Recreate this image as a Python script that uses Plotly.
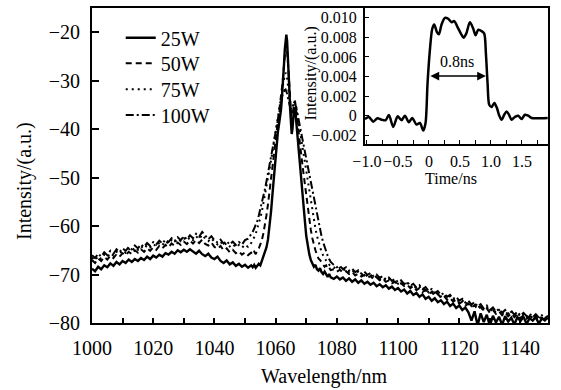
import plotly.graph_objects as go

# ---------------- main spectrum data ----------------
WAVELENGTH = [
    1000, 1001, 1002, 1003, 1004, 1005, 1006, 1007, 1008, 1009,
    1010, 1011, 1012, 1013, 1014, 1015, 1016, 1017, 1018, 1019,
    1020, 1021, 1022, 1023, 1024, 1025, 1026, 1027, 1028, 1029,
    1030, 1031, 1032, 1033, 1034, 1035, 1036, 1037, 1038, 1039,
    1040, 1041, 1042, 1043, 1044, 1045, 1046, 1047, 1048, 1049,
    1050, 1051, 1052,
    1052.5, 1053, 1053.5, 1054, 1054.5, 1055, 1055.5, 1056, 1056.5, 1057,
    1057.5, 1058, 1058.5, 1059, 1059.5, 1060,
    1060.25, 1060.5, 1060.75, 1061, 1061.25, 1061.5, 1061.75, 1062,
    1062.25, 1062.5, 1062.75, 1063, 1063.25, 1063.5, 1063.75, 1064,
    1064.25, 1064.5, 1064.75, 1065, 1065.25, 1065.5, 1065.75, 1066,
    1066.25, 1066.5, 1066.75, 1067, 1067.25, 1067.5, 1067.75, 1068,
    1068.5, 1069, 1069.5, 1070, 1070.5, 1071, 1071.5, 1072, 1072.5, 1073,
    1073.5, 1074, 1074.5, 1075, 1075.5, 1076, 1076.5, 1077, 1077.5, 1078,
    1079, 1080, 1081, 1082, 1083, 1084, 1085, 1086, 1087, 1088,
    1089, 1090, 1091, 1092, 1093, 1094, 1095, 1096, 1097, 1098,
    1099, 1100, 1101, 1102, 1103, 1104, 1105, 1106, 1107, 1108,
    1109, 1110, 1111, 1112, 1113, 1114, 1115, 1116, 1117, 1118,
    1119, 1120, 1121, 1122, 1123, 1124, 1125, 1126, 1127, 1128,
    1129, 1130, 1131, 1132, 1133, 1134, 1135, 1136, 1137, 1138,
    1139, 1140, 1141, 1142, 1143, 1144, 1145, 1146, 1147, 1148,
    1149,
]

P25W = [
    -68.8, -69.3, -68.4, -68.9, -68.1, -68.5, -67.7, -68.2, -67.4, -67.9,
    -67.2, -67.6, -66.9, -67.4, -66.8, -67.2, -66.6, -67.0, -66.3, -66.8,
    -66.1, -66.5, -65.9, -66.3, -65.6, -65.9, -65.3, -65.7, -65.0, -65.4,
    -64.9, -65.3, -64.8, -65.2, -65.7, -65.1, -65.8, -66.2, -65.7, -66.5,
    -66.8, -66.3, -67.2, -67.6, -67.1, -67.9, -67.5, -68.2, -67.8, -68.4,
    -68.0, -68.6, -68.1,
    -68.5, -68.0, -68.6, -68.2, -67.8, -68.1, -67.2, -66.3, -65.6, -64.4,
    -62.8, -60.3, -57.0, -53.2, -49.0, -45.0,
    -43.0, -41.5, -40.5, -39.5, -38.5, -37.5, -36.0, -34.0,
    -32.0, -29.5, -26.5, -23.5, -21.5, -20.5, -21.8, -24.5,
    -28.0, -32.0, -36.0, -39.0, -41.0, -40.0, -37.5, -36.0,
    -35.5, -36.5, -38.5, -40.5, -42.0, -43.5, -45.0, -47.5,
    -51.0, -54.5, -58.5, -62.0, -64.3, -65.8, -67.0, -67.6, -68.4, -68.0,
    -68.9, -69.2, -68.7, -69.5, -69.9, -69.4, -70.1, -70.5, -69.9, -70.6,
    -70.9, -70.4, -71.0, -70.6, -71.3, -70.8, -71.5, -71.0, -71.7, -71.2,
    -71.9, -71.5, -72.1, -71.7, -72.4, -72.0, -72.6, -72.2, -72.9, -72.5,
    -73.2, -72.8, -73.5, -73.1, -73.9, -73.4, -74.2, -73.8, -74.6, -74.1,
    -75.0, -74.6, -75.4, -74.9, -75.7, -75.3, -76.1, -75.6, -76.5, -76.0,
    -76.9, -76.4, -77.3, -76.8, -77.8, -79.5, -77.6, -80.5, -78.0, -79.8,
    -78.3, -80.6, -78.5, -79.9, -78.7, -80.4, -78.6, -79.7, -78.9, -80.3,
    -78.8, -79.6, -78.7, -80.2, -79.0, -79.5, -78.8, -80.1, -79.1, -79.4,
    -78.9,
]

P50W = [
    -67.0, -67.6, -66.7, -67.2, -66.4, -66.9, -66.1, -66.6, -65.8, -66.3,
    -65.6, -66.0, -65.3, -65.8, -65.0, -65.5, -64.8, -65.3, -64.6, -65.1,
    -64.4, -64.9, -64.1, -64.6, -63.9, -64.4, -63.6, -64.1, -63.4, -63.9,
    -63.2, -63.7, -63.0, -63.6, -62.9, -63.5, -62.8, -63.7, -64.0, -63.4,
    -64.3, -64.7, -64.1, -65.0, -64.6, -65.4, -64.9, -65.6, -65.2, -65.9,
    -65.4, -66.0, -65.5,
    -65.9, -65.3, -65.8, -65.0, -64.6, -63.8, -62.9, -61.5, -59.8, -57.8,
    -55.5, -53.0, -50.5, -47.8, -45.0, -42.5,
    -41.2, -40.0, -38.8, -37.5, -36.4, -35.2, -33.8, -32.2,
    -30.5, -28.6, -26.5, -24.6, -23.2, -22.8, -23.8, -26.0,
    -29.0, -32.0, -35.0, -37.2, -38.5, -37.6, -35.8, -34.6,
    -34.2, -34.9, -36.4, -38.0, -39.4, -40.6, -41.9, -43.3,
    -46.0, -48.6, -51.3, -54.0, -56.6, -58.8, -60.8, -62.5, -63.9, -65.0,
    -65.9, -66.7, -67.0, -67.6, -67.9, -68.4, -68.1, -68.8, -68.6, -69.1,
    -68.9, -69.4, -69.0, -69.6, -69.3, -69.9, -69.5, -70.2, -69.8, -70.4,
    -70.1, -70.7, -70.3, -71.0, -70.6, -71.2, -70.9, -71.5, -71.2, -71.8,
    -71.5, -72.1, -71.8, -72.4, -72.1, -72.8, -72.4, -73.2, -72.8, -73.6,
    -73.2, -74.0, -73.6, -74.4, -74.0, -74.8, -74.4, -75.2, -74.8, -75.6,
    -75.2, -76.0, -75.6, -76.4, -76.0, -76.8, -76.3, -77.2, -76.7, -77.5,
    -77.0, -77.9, -77.3, -78.1, -77.6, -78.4, -77.8, -78.6, -78.0, -78.8,
    -78.2, -79.0, -78.4, -79.1, -78.6, -79.3, -78.7, -79.4, -78.9, -79.5,
    -79.0,
]

P75W = [
    -66.5, -67.1, -66.2, -66.8, -65.9, -66.4, -65.6, -66.1, -65.3, -65.8,
    -65.0, -65.5, -64.7, -65.2, -64.4, -64.9, -64.2, -64.7, -63.9, -64.4,
    -63.7, -64.2, -63.4, -63.9, -63.1, -63.6, -62.9, -63.4, -62.6, -63.1,
    -62.5, -63.0, -62.3, -62.9, -62.1, -62.7, -61.8, -62.6, -63.1, -62.5,
    -63.3, -63.8, -63.2, -64.0, -63.5, -64.2, -63.7, -64.4, -63.9, -64.5,
    -63.8, -64.3, -63.5,
    -63.0, -62.3, -61.6, -60.6, -59.6, -58.3, -57.0, -55.4, -53.8, -52.0,
    -50.2, -48.3, -46.5, -44.6, -42.8, -41.0,
    -40.0, -39.0, -38.0, -37.0, -35.9, -34.8, -33.7, -32.6,
    -31.5, -30.4, -29.5, -28.8, -28.4, -28.6, -29.4, -30.8,
    -32.4, -34.0, -35.3, -36.2, -36.6, -36.0, -35.0, -34.3,
    -34.1, -34.6, -35.6, -36.7, -37.7, -38.7, -39.7, -40.7,
    -42.8, -44.8, -46.9, -49.0, -51.1, -53.2, -55.2, -57.1, -58.9, -60.5,
    -62.0, -63.3, -64.4, -65.3, -66.0, -66.7, -67.1, -67.6, -67.9, -68.3,
    -68.5, -68.9, -68.6, -69.2, -68.8, -69.5, -69.1, -69.8, -69.4, -70.1,
    -69.7, -70.4, -70.0, -70.7, -70.3, -71.0, -70.6, -71.3, -70.9, -71.6,
    -71.2, -71.9, -71.5, -72.2, -71.8, -72.6, -72.1, -72.9, -72.5, -73.3,
    -72.9, -73.7, -73.3, -74.1, -73.7, -74.5, -74.1, -74.9, -74.5, -75.3,
    -74.9, -75.7, -75.3, -76.1, -75.7, -76.5, -76.0, -76.9, -76.4, -77.2,
    -76.7, -77.6, -77.0, -77.9, -77.3, -78.1, -77.5, -78.3, -77.7, -78.5,
    -77.9, -78.7, -78.1, -78.8, -78.3, -79.0, -78.4, -79.1, -78.6, -79.2,
    -78.7,
]

P100W = [
    -66.0, -66.6, -65.7, -66.3, -65.4, -66.0, -65.1, -65.7, -64.8, -65.4,
    -64.6, -65.1, -64.3, -64.8, -64.0, -64.6, -63.8, -64.3, -63.5, -64.1,
    -63.3, -63.8, -63.0, -63.6, -62.8, -63.3, -62.5, -63.1, -62.3, -62.9,
    -62.1, -62.7, -61.9, -62.5, -61.6, -62.2, -61.2, -62.0, -62.7, -62.1,
    -62.9, -63.4, -62.8, -63.6, -63.1, -63.8, -63.2, -63.9, -63.3, -63.8,
    -62.9, -62.6, -61.8,
    -61.2, -60.5, -59.8, -58.9, -57.8, -56.6, -55.3, -53.9, -52.4, -50.8,
    -49.1, -47.3, -45.5, -43.7, -41.9, -40.2,
    -39.3, -38.5, -37.6, -36.8, -35.9, -35.1, -34.3, -33.6,
    -33.0, -32.5, -32.1, -31.9, -31.8, -32.1, -32.7, -33.5,
    -34.3, -35.0, -35.5, -35.8, -35.9, -35.5, -34.9, -34.5,
    -34.5, -34.9, -35.6, -36.4, -37.2, -38.0, -38.8, -39.6,
    -41.2, -42.8, -44.5, -46.2, -47.9, -49.6, -51.3, -53.0, -54.7, -56.3,
    -57.9, -59.4, -60.8, -62.1, -63.3, -64.4, -65.3, -66.1, -66.8, -67.4,
    -68.0, -68.5, -68.2, -68.9, -68.5, -69.2, -68.8, -69.5, -69.1, -69.8,
    -69.4, -70.1, -69.7, -70.4, -70.0, -70.7, -70.3, -71.0, -70.6, -71.3,
    -70.9, -71.6, -71.2, -72.0, -71.5, -72.3, -71.9, -72.7, -72.2, -73.0,
    -72.6, -73.4, -73.0, -73.8, -73.4, -74.2, -73.8, -74.6, -74.2, -75.0,
    -74.6, -75.4, -75.0, -75.8, -75.4, -76.2, -75.7, -76.6, -76.1, -77.0,
    -76.4, -77.3, -76.8, -77.6, -77.1, -77.9, -77.3, -78.1, -77.5, -78.3,
    -77.7, -78.5, -77.9, -78.6, -78.1, -78.8, -78.2, -78.9, -78.4, -79.0,
    -78.5,
]

SERIES_NAMES = ["25W", "50W", "75W", "100W"]

X_TICK_VALUES = [1000, 1010, 1020, 1030, 1040, 1050, 1060, 1070,
                 1080, 1090, 1100, 1110, 1120, 1130, 1140]
X_TICK_TEXT = ["1000", "", "1020", "", "1040", "", "1060", "",
               "1080", "", "1100", "", "1120", "", "1140"]
Y_TICK_VALUES = [-80, -70, -60, -50, -40, -30, -20]
Y_TICK_TEXT = ["\u221280", "\u221270", "\u221260", "\u221250",
               "\u221240", "\u221230", "\u221220"]

# ---------------- inset pulse data ----------------
TIME_NS = [
    -1.032, -0.968, -0.898, -0.828, -0.763, -0.699, -0.645, -0.575, -0.505,
    -0.441, -0.387, -0.323, -0.269, -0.199, -0.145, -0.091, -0.054, -0.022,
    0.016, 0.054, 0.086, 0.129, 0.161, 0.204, 0.258, 0.312, 0.366, 0.409,
    0.462, 0.516, 0.559, 0.602, 0.661, 0.715, 0.753, 0.796, 0.85, 0.892,
    0.919, 0.946, 0.973, 1.011, 1.054, 1.097, 1.129, 1.172, 1.215, 1.253,
    1.29, 1.333, 1.387, 1.441, 1.495, 1.548, 1.602, 1.656, 1.737, 1.817,
    1.915,
]
PULSE = [
    -0.00034, -0.00013, -0.00061, -0.00027, -0.00041, -0.00047, 0.00007,
    -0.00115, -0.00007, -0.00047, 0.0, -0.00068, -0.00024, -0.00091,
    -0.00074, -0.00152, -0.00074, 0.00331, 0.00669, 0.00888, 0.00932,
    0.00854, 0.00831, 0.00932, 0.0100, 0.0099, 0.00955, 0.00966, 0.00905,
    0.00838, 0.00797, 0.00838, 0.00955, 0.00888, 0.00821, 0.00878, 0.00864,
    0.00838, 0.00635, 0.00331, 0.00111, 0.00088, 0.00129, 0.00078, 0.0001,
    -0.00041, 0.0001, 0.00044, 0.0001, -0.00041, -0.00013, 0.0, -0.00034,
    0.0001, 0.0, -0.00024, -0.00027, -0.00027, -0.00024,
]
INSET_X_TICK_VALUES = [-1.0, -0.75, -0.5, -0.25, 0.0, 0.25, 0.5, 0.75,
                       1.0, 1.25, 1.5, 1.75]
INSET_X_TICK_TEXT = ["\u22121.0", "", "\u22120.5", "", "0", "", "0.5", "",
                     "1.0", "", "1.5", ""]
INSET_Y_TICK_VALUES = [-0.002, 0.0, 0.002, 0.004, 0.006, 0.008, 0.010]
INSET_Y_TICK_TEXT = ["\u22120.002", "0", "0.002", "0.004", "0.006",
                     "0.008", "0.010"]
FWHM_START, FWHM_END, FWHM_LEVEL = 0.0, 0.92, 0.00405

FONT = "Liberation Serif, Times New Roman, serif"

fig = go.Figure()

styles = [
    dict(dash="solid", width=2.4),
    dict(dash="6px,4px", width=2),
    dict(dash="2px,4px", width=2),
    dict(dash="8px,3px,2px,3px", width=2),
]
legend_ids = ["legend", "legend2", "legend3", "legend4"]
legend_rows_y = [0.9057, 0.8244, 0.7419, 0.6603]

for name, vals, st, lid in zip(SERIES_NAMES, [P25W, P50W, P75W, P100W],
                               styles, legend_ids):
    fig.add_trace(go.Scatter(
        x=WAVELENGTH, y=vals, mode="lines", name=name, legend=lid,
        line=dict(color="black", **st), xaxis="x", yaxis="y",
    ))

fig.add_trace(go.Scatter(
    x=TIME_NS, y=PULSE, mode="lines", showlegend=False,
    line=dict(color="black", width=2.5, shape="spline", smoothing=0.8),
    xaxis="x2", yaxis="y2",
))

axis_common = dict(
    showline=True, mirror=True, linecolor="black", linewidth=2,
    ticks="inside", tickcolor="black", showgrid=False, zeroline=False,
    automargin=False, tickangle=0,
)

legend_layout = {}
for lid, ly in zip(legend_ids, legend_rows_y):
    legend_layout[lid] = dict(
        x=0.063, y=ly, xanchor="left", yanchor="middle",
        bgcolor="rgba(0,0,0,0)", font=dict(size=20),
    )

fig.update_layout(
    width=561, height=390,
    margin=dict(l=92, r=13, t=8, b=67),
    paper_bgcolor="white", plot_bgcolor="white",
    font=dict(family=FONT, color="black", size=20),
    showlegend=True,
    xaxis=dict(
        domain=[0, 1], range=[1000, 1149], anchor="y",
        tickvals=X_TICK_VALUES, ticktext=X_TICK_TEXT,
        ticklen=5, tickwidth=1.5, tickfont=dict(size=20),
        ticklabelstandoff=6, **axis_common,
    ),
    yaxis=dict(
        domain=[0, 1], range=[-80, -15], anchor="x",
        tickvals=Y_TICK_VALUES, ticktext=Y_TICK_TEXT,
        ticklen=7, tickwidth=1.5, tickfont=dict(size=20),
        ticklabelstandoff=6, **axis_common,
    ),
    xaxis2=dict(
        domain=[0.5987, 1.0], range=[-1.03, 1.92], anchor="y2",
        tickvals=INSET_X_TICK_VALUES, ticktext=INSET_X_TICK_TEXT,
        ticklen=4, tickwidth=1.2, tickfont=dict(size=16),
        ticklabelstandoff=2, **axis_common,
    ),
    yaxis2=dict(
        domain=[0.568, 1.0], range=[-0.0029, 0.011], anchor="x2",
        tickvals=INSET_Y_TICK_VALUES, ticktext=INSET_Y_TICK_TEXT,
        ticklen=4, tickwidth=1.2, tickfont=dict(size=16),
        ticklabelstandoff=3, **axis_common,
    ),
    **legend_layout,
)

annotations = [
    # main axis titles
    dict(text="Wavelength/nm", xref="paper", yref="paper",
         x=0.5088, y=-0.1714, showarrow=False, font=dict(size=20),
         xanchor="center", yanchor="middle"),
    dict(text="Intensity/(a.u.)", xref="paper", yref="paper",
         x=-0.1469, y=0.4508, showarrow=False, textangle=-90,
         font=dict(size=20), xanchor="center", yanchor="middle"),
    # inset axis titles
    dict(text="Time/ns", xref="paper", yref="paper",
         x=0.787, y=0.460, showarrow=False, font=dict(size=16),
         xanchor="center", yanchor="middle"),
    dict(text="Intensity/(a.u.)", xref="paper", yref="paper",
         x=0.480, y=0.792, showarrow=False, textangle=-90,
         font=dict(size=16), xanchor="center", yanchor="middle"),
    # FWHM arrow and label
    dict(text="", xref="x2", yref="y2", axref="x2", ayref="y2",
         x=FWHM_END, y=FWHM_LEVEL, ax=FWHM_START, ay=FWHM_LEVEL,
         showarrow=True, arrowhead=2, arrowside="end+start",
         arrowsize=1.1, arrowwidth=1.6, arrowcolor="black",
         standoff=0, startstandoff=0),
    dict(text="0.8ns", xref="x2", yref="y2",
         x=(FWHM_START + FWHM_END) / 2, y=0.0055, showarrow=False,
         font=dict(size=16), xanchor="center", yanchor="middle"),
]
fig.update_layout(annotations=annotations)

fig.write_html(
    "out.html",
    config={"displayModeBar": False},
    post_script="document.body.style.margin='0px';"
                "document.body.style.overflow='hidden';",
)
